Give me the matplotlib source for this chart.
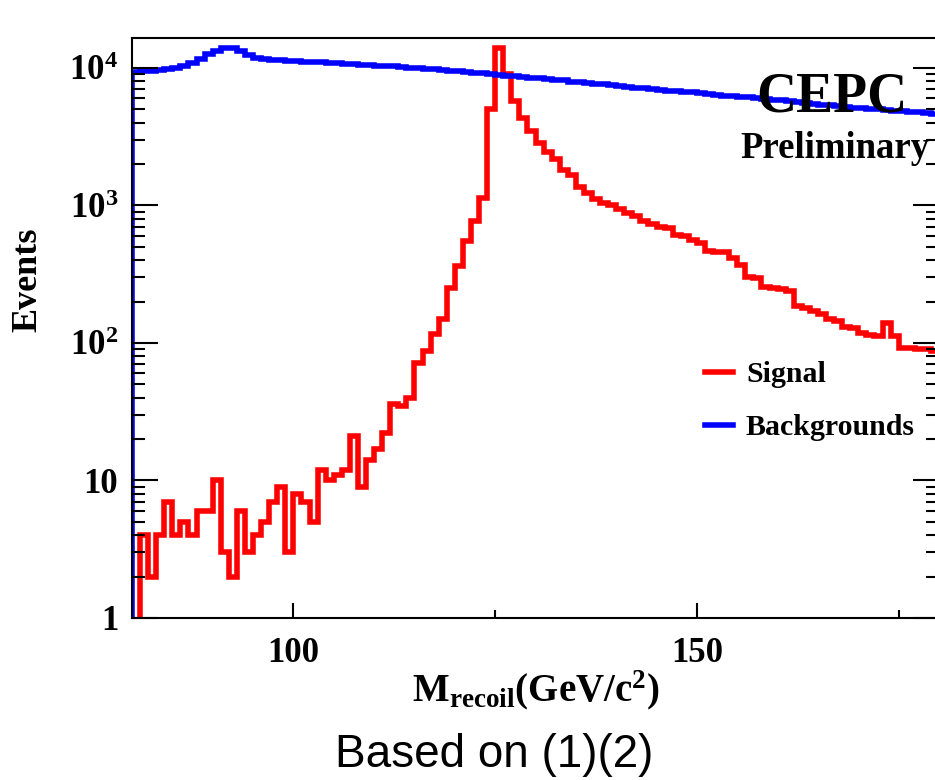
import numpy as np
import matplotlib
matplotlib.use("Agg")
import matplotlib.pyplot as plt
from matplotlib.ticker import FixedLocator, LogLocator, MultipleLocator, NullFormatter

# Fonts: ROOT-like Times bold
plt.rcParams['font.family'] = ['Liberation Serif', 'DejaVu Serif']
plt.rcParams['font.weight'] = 'bold'
plt.rcParams['mathtext.fontset'] = 'custom'
plt.rcParams['mathtext.rm'] = 'Liberation Serif:bold'
plt.rcParams['mathtext.it'] = 'Liberation Serif:bold:italic'
plt.rcParams['mathtext.bf'] = 'Liberation Serif:bold'
plt.rcParams['mathtext.default'] = 'rm'

# Data: 1 GeV bins from 80 to 180
bin_edges = np.arange(80, 181, 1)

signal = [
    0.5, 4, 2, 4, 7, 4, 5, 4, 6, 6,                       # 80-89
    10, 3, 2, 6, 3, 4, 5, 7, 9, 3,                        # 90-99
    8, 7, 5, 12, 10, 11, 12, 21, 9, 14,                   # 100-109
    17, 22, 36, 35, 40, 72, 88, 116, 150, 250,            # 110-119
    365, 550, 770, 1140, 5000, 14000, 9000, 5700, 4300, 3500,  # 120-129
    2830, 2460, 2190, 1800, 1670, 1370, 1230, 1110, 1050, 1000,  # 130-139
    940, 875, 840, 775, 730, 700, 690, 610, 600, 560,     # 140-149
    530, 470, 460, 455, 415, 370, 300, 295, 255, 250,     # 150-159
    245, 240, 185, 180, 170, 162, 150, 145, 130, 128,     # 160-169
    118, 115, 112, 140, 112, 92, 92, 90, 90, 88,          # 170-179
]

backgrounds = [
    9400, 9450, 9500, 9700, 9800, 10000, 10300, 10800, 11600, 12600,   # 80-89
    13300, 13900, 13900, 13300, 12500, 11900, 11600, 11500, 11350, 11250,  # 90-99
    11150, 11050, 11000, 10950, 10850, 10800, 10700, 10650, 10550, 10500,  # 100-109
    10400, 10350, 10250, 10150, 10050, 9950, 9850, 9750, 9650, 9550,  # 110-119
    9450, 9350, 9250, 9150, 9000, 8900, 8800, 8700, 8600, 8500,       # 120-129
    8400, 8300, 8200, 8100, 7950, 7850, 7750, 7650, 7600, 7500,       # 130-139
    7400, 7300, 7200, 7100, 7000, 6950, 6850, 6800, 6700, 6650,       # 140-149
    6550, 6500, 6400, 6300, 6250, 6150, 6100, 6000, 5950, 5850,       # 150-159
    5800, 5700, 5650, 5550, 5500, 5400, 5350, 5300, 5200, 5150,       # 160-169
    5100, 5050, 5000, 4950, 4900, 4850, 4800, 4750, 4700, 4650,       # 170-179
]

y_ticks = [1, 10, 100, 1000, 10000]
y_tick_labels = ['1', '10', r'$10^{2}$', r'$10^{3}$', r'$10^{4}$']
x_ticks = [100, 150]

# Figure: axes run slightly past the right edge, like the cropped original
fig = plt.figure(figsize=(9.35, 7.8), dpi=100)
ax = fig.add_axes([132 / 935, 162 / 780, 807 / 935, 580 / 780])

ax.stairs(signal, bin_edges, baseline=0.1, color='#ff0000', lw=4, label='Signal')
ax.stairs(backgrounds, bin_edges, baseline=0.1, color='#0000ff', lw=4, label='Backgrounds')

ax.set_yscale('log')
ax.set_xlim(80, 180)
ax.set_ylim(1, 16500)

# Ticks
ax.yaxis.set_major_locator(FixedLocator(y_ticks))
ax.set_yticklabels(y_tick_labels)
ax.yaxis.set_minor_locator(LogLocator(base=10, subs=np.arange(2, 10)))
ax.yaxis.set_minor_formatter(NullFormatter())
ax.xaxis.set_major_locator(FixedLocator(x_ticks))
ax.xaxis.set_minor_locator(MultipleLocator(25))

ax.tick_params(axis='y', which='both', direction='in', left=True, right=True,
               width=1.5, labelsize=25, pad=10)
ax.tick_params(axis='y', which='major', length=18.5)
ax.tick_params(axis='y', which='minor', length=9.5)
ax.tick_params(axis='x', which='both', direction='in', bottom=True, top=False,
               width=1.5, labelsize=25, pad=14)
ax.tick_params(axis='x', which='major', length=11)
ax.tick_params(axis='x', which='minor', length=6)

for s in ax.spines.values():
    s.set_linewidth(1.5)

# Axis titles
ax.set_xlabel(r'$M_{recoil}(GeV/c^{2})$', fontsize=28)
ax.xaxis.set_label_coords(0.5, -0.086)
ax.set_ylabel('Events', fontsize=26, fontweight='bold')
ax.yaxis.set_label_coords(-0.108, 0.583)

# Legend
ax.legend(loc='center left', bbox_to_anchor=(0.710, 0.374), frameon=False,
          fontsize=21.5, handlelength=0.94, handletextpad=0.43,
          labelspacing=0.87, borderpad=0, borderaxespad=0)

# CEPC labels
fig.text(831.5 / 935, 1 - 112 / 780, 'CEPC', fontsize=40, fontweight='bold',
         ha='center', va='baseline')
fig.text(740 / 935, 1 - 158 / 780, 'Preliminary', fontsize=26.5, fontweight='bold',
         ha='left', va='baseline')

# Caption
fig.text(494 / 935, 1 - 767 / 780, 'Based on (1)(2)', fontsize=33,
         family='Liberation Sans', fontweight='normal', ha='center', va='baseline')

fig.savefig('out.png', dpi=100)
